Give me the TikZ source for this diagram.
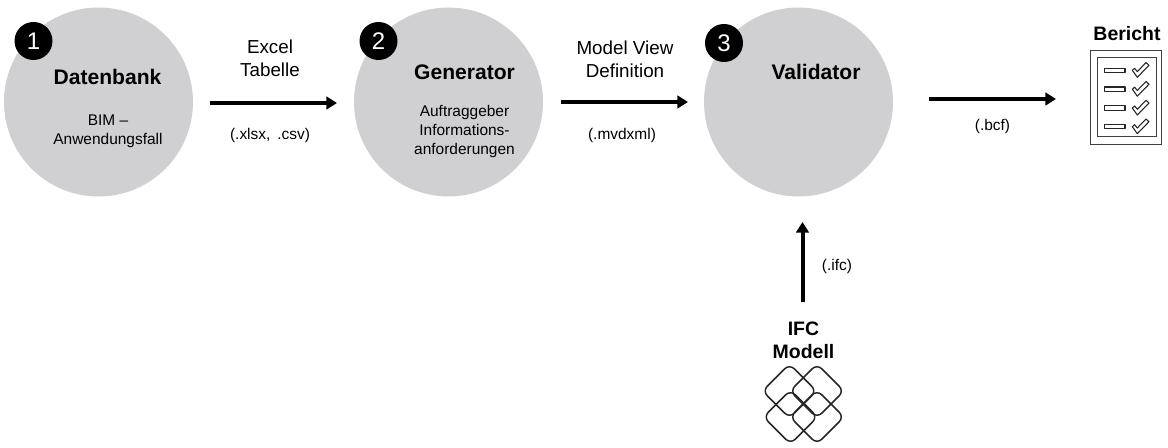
\documentclass[tikz,border=0pt]{standalone}
\usepackage{fontspec}
\setmainfont{Liberation Sans}
\usetikzlibrary{arrows.meta}
\definecolor{stagegray}{HTML}{D0D0D2}
\tikzstyle{stage}=[circle, fill=stagegray, inner sep=0pt, minimum size=141.75pt]
\tikzstyle{badge}=[circle, fill=black, text=white, inner sep=0pt, minimum size=28.5pt, font=\fontsize{18}{20}\selectfont]
\tikzstyle{title}=[align=center, inner sep=0pt, font=\fontsize{15.8}{17.25}\bfseries\selectfont]
\tikzstyle{head}=[align=center, inner sep=0pt, font=\fontsize{14.6}{17.25}\bfseries\selectfont]
\tikzstyle{label}=[align=center, inner sep=0pt, font=\fontsize{14.1}{17.25}\selectfont]
\tikzstyle{small}=[align=center, inner sep=0pt, font=\fontsize{11.6}{14.25}\selectfont]
\tikzstyle{flow}=[line width=3pt, -{Triangle[length=8pt,width=9.5pt]}]
\tikzstyle{icon}=[draw=black!85, line width=0.8pt, line join=round]

\begin{document}
\begin{tikzpicture}[x=0.75pt, y=-0.75pt]
    \useasboundingbox (0,0) rectangle (1168,448);

    \begin{scope}[every node/.style={stage}]
        \node (datenbank) at (98.5,102) {};
        \node (generator) at (448.5,102) {};
        \node (validator) at (798.5,102) {};
    \end{scope}

    \begin{scope}[every node/.style={badge}]
        \node (b1) at (33.5,41) {1};
        \node (b2) at (378.5,41) {2};
        \node (b3) at (724,43) {3};
    \end{scope}

    \begin{scope}[every node/.style={title}]
        \node (t1) at (107.5,77) {Datenbank};
        \node (t2) at (464.5,72) {Generator};
        \node (t3) at (816,72) {Validator};
    \end{scope}

    \begin{scope}[every node/.style={head}]
        \node (bericht) at (1127,33.5) {Bericht};
        \node (ifc) at (803.5,340) {IFC\\Modell};
    \end{scope}

    \node[small] (s1) at (108,131) {BIM --\\Anwendungsfall};
    \node[small] (s2) at (464.5,132) {Auftraggeber\\Informations-\\anforderungen};

    \begin{scope}[every node/.style={label}]
        \node (l1) at (270,58.5) {Excel\\Tabelle};
        \node (l2) at (625,59.5) {Model View\\Definition};
    \end{scope}

    \begin{scope}[every node/.style={small}]
        \node (f1) at (270,136) {(.xlsx,\, .csv)};
        \node (f2) at (622,136) {(.mvdxml)};
        \node (f3) at (992.5,127) {(.bcf)};
        \node (f4) at (837,266.5) {(.ifc)};
    \end{scope}

    \coordinate (a1) at (210,103);
    \coordinate (e1) at (337,103);
    \coordinate (a2) at (561,102);
    \coordinate (e2) at (688,102);
    \coordinate (a3) at (929,99);
    \coordinate (e3) at (1056,99);
    \coordinate (a4) at (802.5,302);
    \coordinate (e4) at (802.5,222);
    \draw[flow] (a1) -- (e1);
    \draw[flow] (a2) -- (e2);
    \draw[flow] (a3) -- (e3);
    \draw[flow] (a4) -- (e4);

    % Bericht
    \draw[black!75, line width=0.75pt] (1090.5,51) rectangle (1161.5,145);
    \draw[black!75, line width=0.75pt] (1097.5,58) rectangle (1156.5,137);
    \foreach \y in {70.3,89.2,108,126.7} {
        \draw[icon] (1104.5,\y-2.2) rectangle (1125,\y+2.2);
        \draw[icon] (1132.3,\y) -- ++(2.3,-2) -- ++(2.7,3.3) -- ++(8.7,-9) -- ++(3,2.7) -- ++(-11.7,12) -- cycle;
    }

    % Modell
    \foreach \cx/\cy in {789.5/391, 817/391, 790.5/417, 817/417} {
        \draw[icon, line width=1.1pt, rounded corners=5pt]
            (\cx-27,\cy) -- (\cx,\cy-27) -- (\cx+27,\cy) -- (\cx,\cy+27) -- cycle;
    }
\end{tikzpicture}
\end{document}
